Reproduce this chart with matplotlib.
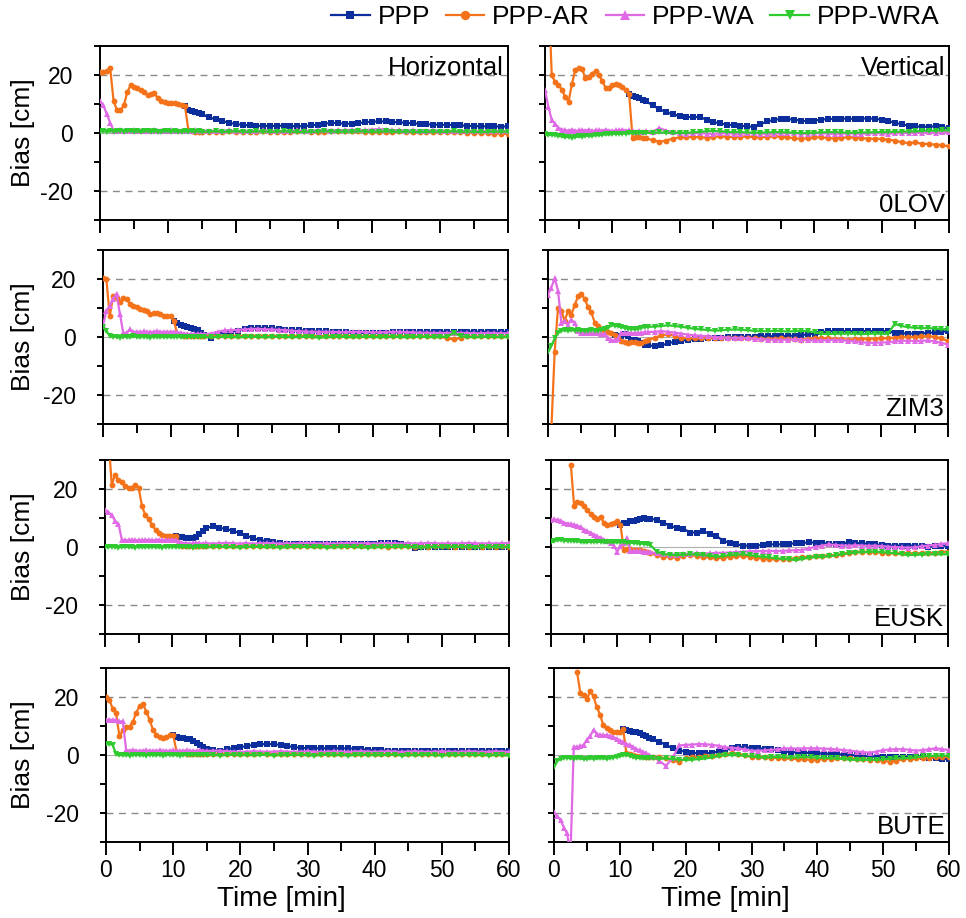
import numpy as np
import matplotlib
matplotlib.use("Agg")
import matplotlib.pyplot as plt
from matplotlib.ticker import MultipleLocator, FuncFormatter
from matplotlib.transforms import blended_transform_factory

plt.rcParams["font.family"] = ["Liberation Sans", "DejaVu Sans"]
plt.rcParams["axes.unicode_minus"] = False

nan = float("nan")

# epochs: 30 s for the first 15 min, then one per minute
T = np.concatenate([np.arange(0, 15.5, 0.5), np.arange(16, 61)])

STATIONS = ["0LOV", "ZIM3", "EUSK", "BUTE"]
LABELS = ["PPP", "PPP-AR", "PPP-WA", "PPP-WRA"]

# PPP float values are only listed from the last epoch shared with PPP-AR;
# before the first fix both solutions are identical and the AR curve shows it.

# ---- 0LOV -----------------------------------------------------------------
PPP_0LOV_H = [nan, nan, nan, nan, nan, nan, nan, nan, nan, nan,
              nan, nan, nan, nan, nan, nan, nan, nan, nan, nan,
              nan, nan, nan, nan, nan, 9.2, 8.1, 7.6, 7.2, 6.9, 6.5,
              5.4, 4.7, 4.1, 3.5, 3.1, 2.8, 2.6, 2.5, 2.5, 2.4,
              2.5, 2.5, 2.4, 2.3, 2.4, 2.6, 2.9, 3.2, 3.5, 3.4,
              3.2, 3.2, 3.4, 3.7, 3.9, 4.0, 4.0, 3.8, 3.7, 3.5,
              3.3, 3.2, 3.0, 2.9, 2.9, 2.8, 2.8, 2.6, 2.5, 2.4,
              2.3, 2.3, 2.3, 2.2, 2.3]
AR_0LOV_H = [21, 21, 21.5, 22.3, 11, 7.8, 7.8, 9.5, 14, 16.5,
             16, 15.5, 14.8, 14, 13.2, 13.5, 13.7, 12, 11.2, 10.8,
             10.5, 10.5, 10.2, 10, 9.8, 9.2, 1.0, 0.6, 0.5, 0.4, 0.5,
             0.5, 0.4, 0.5, 0.6, 0.5, 0.4, 0.5, 0.5, 0.6, 0.5,
             0.4, 0.4, 0.5, 0.6, 0.6, 0.5, 0.4, 0.5, 0.6, 0.7,
             0.8, 0.7, 0.6, 0.5, 0.5, 0.4, 0.4, 0.5, 0.6, 0.5,
             0.4, 0.3, 0.3, 0.4, 0.4, 0.3, 0.2, 0.2, 0.1, 0.0,
             0.0, -0.1, -0.2, -0.2, -0.3]
WA_0LOV_H = [11, 9.5, 6.5, 3.5, 0.8, 0.7, 0.9, 0.6, 0.8, 0.7,
             0.9, 0.6, 0.8, 0.7, 0.6, 0.8, 0.9, 0.7, 0.6, 0.8,
             0.7, 0.9, 0.6, 0.8, 0.7, 0.6, 0.8, 0.7, 0.9, 0.6, 0.8,
             0.7, 0.8, 0.6, 0.9, 0.7, 0.8, 0.6, 0.7, 0.9, 0.8,
             0.7, 0.6, 0.8, 0.9, 0.7, 0.8, 0.9, 1.0, 0.8, 0.9,
             1.0, 1.1, 0.9, 1.0, 1.2, 1.3, 1.2, 1.0, 0.9, 0.8,
             0.9, 0.7, 0.8, 0.9, 0.7, 0.8, 0.6, 0.7, 0.8, 0.6,
             0.7, 0.6, 0.7, 0.8, 0.6]
WRA_0LOV_H = [0.5, 0.6, 0.4, 0.7, 0.5, 0.6, 0.8, 0.5, 0.6, 0.7,
              0.5, 0.6, 0.4, 0.6, 0.7, 0.5, 0.6, 0.5, 0.4, 0.6,
              0.7, 0.5, 0.6, 0.5, 0.4, 0.6, 0.5, 0.7, 0.5, 0.6, 0.4,
              0.5, 0.6, 0.4, 0.5, 0.6, 0.5, 0.4, 0.6, 0.5, 0.4,
              0.5, 0.6, 0.5, 0.4, 0.3, 0.4, 0.5, 0.6, 0.5, 0.4,
              0.5, 0.4, 0.6, 0.5, 0.4, 0.5, 0.6, 0.5, 0.4, 0.5,
              0.4, 0.3, 0.4, 0.5, 0.4, 0.5, 0.6, 0.4, 0.5, 0.4,
              0.3, 0.4, 0.5, 0.4, 0.5]

PPP_0LOV_V = [nan, nan, nan, nan, nan, nan, nan, nan, nan, nan,
              nan, nan, nan, nan, nan, nan, nan, nan, nan, nan,
              nan, nan, nan, nan, nan, 13.5, 12.7, 12.3, 12, 11.5, 11,
              9.5, 8.2, 7.2, 6.4, 5.9, 5.5, 5.5, 5.5, 4.6, 3.8,
              3.3, 2.9, 2.7, 2.5, 2.3, 2.1, 3.0, 4.0, 4.5, 4.9,
              4.8, 4.6, 4.3, 4.0, 4.3, 4.6, 4.8, 4.9, 5.0, 4.9,
              4.9, 5.0, 5.0, 4.9, 4.6, 4.1, 3.5, 3.0, 2.5, 2.3,
              2.1, 2.2, 2.3, 2.0, 1.7]
AR_0LOV_V = [80, 50, 20, 17.5, 16.6, 15, 12.5, 10.8, 17, 21.7,
             22.5, 22, 19, 19.2, 20.5, 21.5, 20, 18, 15.5, 15.5,
             16.6, 16.8, 16.6, 16, 15, 13.5, -1.8, -1.5, -1.5, -1.7, -1.8,
             -2.5, -3, -2.6, -1.9, -1.5, -1.5, -1.3, -1.5, -1.6, -1.3,
             -1.2, -1.3, -1.4, -1.3, -1.2, -1.4, -1.5, -1.3, -1.2, -1.3,
             -1.5, -1.8, -2.0, -1.8, -1.5, -1.5, -1.7, -1.9, -1.7, -1.5,
             -1.6, -1.8, -1.9, -2.0, -2.0, -2.3, -2.6, -3.2, -3.5, -3.2,
             -3.7, -3.8, -4.0, -4.2, -4.6]
WA_0LOV_V = [14.8, 9, 4.5, 3.2, 1.8, 1.2, 1.0, 0.8, 1.2, 0.7,
             0.9, 1.1, 0.8, 1.2, 0.7, 0.9, 1.0, 0.8, 1.2, 0.8,
             0.7, 1.0, 0.9, 1.2, 0.8, 0.9, 0.6, 0.5, 0.7, 0.5, 0.6,
             0.5, 1.7, 0.8, 0.3, 0.0, -0.2, -0.1, 0.0, -0.2, -0.3,
             -0.1, 0.0, -0.2, -0.3, -0.1, 0.0, -0.2, -0.3, -0.2, -0.1,
             0.0, -0.1, -0.3, -0.2, -0.1, 0.0, -0.2, -0.3, -0.2, -0.1,
             -0.2, -0.3, -0.1, 0.0, -0.1, -0.2, -0.1, 0.0, 0.1, 0.0,
             0.1, 0.2, 0.1, 0.2, 0.3]
WRA_0LOV_V = [-0.5, -0.7, -0.6, -0.8, -1.0, -1.2, -1.5, -1.3, -1.6, -1.4,
              -1.2, -1.3, -1.0, -0.9, -1.0, -0.8, -0.7, -0.6, -0.5, -0.5,
              -0.4, -0.3, -0.3, -0.2, -0.2, -0.1, 0, -0.1, 0, 0.1, 0,
              0.1, 0.2, 0.1, 0, 0, 0.1, 0.2, 0.4, 0.6, 0.7,
              0.6, 0.4, 0.3, 0.3, 0.2, 0.1, 0.1, 0.2, 0.3, 0.3,
              0.2, 0.1, 0, 0, 0.1, 0.2, 0.3, 0.3, 0.2, 0.1,
              0.1, 0.2, 0.2, 0.3, 0.3, 0.4, 0.4, 0.5, 0.5, 0.6,
              0.7, 0.8, 0.8, 0.9, 0.9]

# ---- ZIM3 -----------------------------------------------------------------
PPP_ZIM3_H = [nan, nan, nan, nan, nan, nan, nan, nan, nan, nan,
              nan, nan, nan, nan, nan, nan, nan, nan, nan, nan,
              nan, 5.5, 4.8, 4.2, 3.8, 3.4, 3.0, 2.6, 2.3, 1.4, 0.6,
              -0.3, 1.2, 1.5, 1.8, 2.2, 2.8, 3.0, 3.2, 3.2, 3.0,
              2.8, 2.5, 2.4, 2.3, 2.2, 2.0, 2.0, 1.9, 1.8, 1.7,
              1.6, 1.5, 1.4, 1.4, 1.4, 1.4, 1.5, 1.6, 1.7, 1.7,
              1.8, 1.8, 1.8, 1.8, 1.8, 1.8, 1.8, 1.8, 1.8, 1.8,
              1.8, 1.8, 1.8, 1.8, 1.8]
AR_ZIM3_H = [20.2, 20, 7.2, 14, 13.5, 12, 13.6, 13, 11.5, 10.7,
             10.2, 9.8, 9.3, 8.8, 7.8, 8.2, 8.4, 7.8, 7.2, 7.3,
             7.2, 5.5, 1.2, 0.8, 0.5, 0.5, 0.4, 0.5, 0.4, 0.5, 0.4,
             0.4, 0.3, 0.4, 0.5, 0.4, 0.3, 0.4, 0.5, 0.4, 0.3,
             0.4, 0.5, 0.4, 0.3, 0.4, 0.5, 0.4, 0.3, 0.4, 0.5,
             0.4, 0.3, 0.2, 0.3, 0.4, 0.3, 0.2, 0.3, 0.4, 0.3,
             0.2, 0.3, 0.4, 0.3, 0.2, -0.5, -0.8, -0.3, 0.2, 0.3,
             0.2, 0.3, 0.2, 0.3, 0.2]
WA_ZIM3_H = [4, 9, 10.7, 13, 15, 8, 1.4, 1.5, 2.6, 1.8,
             1.8, 1.7, 1.9, 1.8, 1.7, 1.8, 1.9, 1.8, 1.7, 1.8,
             1.8, 1.7, 1.6, 1.4, 1.2, 1.1, 1.0, 1.0, 1.1, 1.0, 1.0,
             1.2, 1.8, 2.3, 2.4, 2.5, 2.6, 2.8, 2.8, 2.7, 2.6,
             2.5, 2.4, 2.2, 2.0, 1.9, 1.8, 1.8, 1.8, 1.8, 1.7,
             1.7, 1.8, 1.8, 1.7, 1.6, 1.6, 1.7, 1.8, 1.8, 1.7,
             1.6, 1.5, 1.5, 1.4, 1.4, 1.4, 1.5, 1.4, 1.4, 1.3,
             1.3, 1.4, 1.4, 1.3, 1.3]
WRA_ZIM3_H = [3.4, 2.2, 0.3, 0.1, 0.0, -0.2, 0.1, 0.0, -0.1, 0.2,
              0.0, -0.1, 0.1, 0.0, -0.2, 0.1, 0.0, -0.1, 0.1, 0.0,
              -0.1, 0.0, 0.1, -0.1, 0.0, 0.1, 0.0, -0.1, 0.0, 0.1, 0.0,
              -0.1, 0.0, 0.1, 0.0, -0.1, 0.0, 0.1, 0.0, -0.1, 0.0,
              0.1, 0.0, -0.1, 0.0, 0.1, 0.0, -0.2, -0.1, 0.0, 0.1,
              0.0, -0.1, 0.0, 0.1, 0.0, -0.1, 0.0, 0.1, 0.0, -0.1,
              0.0, 0.1, 0.0, -0.1, 0.0, 0.1, 1.5, 0.2, 0.0, -0.1,
              0.0, 0.1, 0.0, -0.1, 0.0]

PPP_ZIM3_V = [nan, nan, nan, nan, nan, nan, nan, nan, nan, nan,
              nan, nan, nan, nan, nan, nan, nan, nan, nan, nan,
              0.8, 0.3, 0.5, 0.9, 0.2, -0.9, -1.2, -1.4, -2.0, -2.6, -2.9,
              -3.1, -2.9, -2.2, -1.6, -1.3, -1.0, -0.8, -0.6, -0.4, -0.3,
              -0.2, -0.1, 0, 0, 0.1, 0.1, 0.2, 0.2, 0.3, 0.3,
              0.4, 0.5, 0.7, 0.9, 1.2, 1.6, 2.0, 2.0, 2.0, 2.0,
              2.0, 2.1, 2.0, 2.0, 2.0, 2.0, 1.4, 1.3, 1.2, 1.2,
              1.2, 1.4, 1.6, 1.8, 2.0]
AR_ZIM3_V = [-60, -32, -5, 10, 9, 5.5, 9, 7.7, 11, 14,
             15, 13, 10.5, 8.5, 5, 3.8, 2.8, 1.9, 1.6, 1.4,
             0.8, -0.2, -1.4, -1.8, -2, -1.8, -1.7, -1.9, -2, -1.5, -0.9,
             -0.3, 0.6, 0.9, 0.5, -0.2, -0.4, -0.5, -0.4, -0.3, -0.2,
             -0.2, -0.3, -0.3, -0.4, -0.5, -0.5, -0.6, -0.7, -0.6, -0.5,
             -0.6, -0.8, -0.9, -0.7, -0.5, -0.4, -0.5, -0.7, -0.8, -0.9,
             -0.8, -0.7, -0.6, -0.6, -0.5, -0.4, -0.2, 0.0, 0.1, 0.0,
             0.2, 0.3, 0.1, -0.5, -1.4]
WA_ZIM3_V = [14.6, 17, 20.3, 16, 5, 5.4, 4.3, 6, 4.9, 2.2,
             1.4, 1.4, 1.5, 1.4, 1.4, 1.3, 1.2, 0.9, -0.5, -1.1,
             -1.1, -0.6, 1.4, 1.4, 1.4, 1.4, 1.4, 1.4, 1.5, 1.6, 1.7,
             1.8, 2.0, 1.8, 1.5, 1.2, 0.8, 0.6, 0.4, 0.3, 0,
             -0.1, -0.2, -0.3, -0.3, -0.4, -0.6, -0.8, -0.9, -1.0, -1.0,
             -0.9, -0.8, -0.9, -1.1, -1.2, -1.2, -1.1, -1.0, -1.1, -1.3,
             -1.5, -1.8, -2.0, -2.0, -1.9, -1.8, -1.5, -1.3, -1.3, -1.4,
             -1.3, -1.2, -1.5, -2.0, -2.6]
WRA_ZIM3_V = [-5, -3, -0.5, 1.4, 2.2, 2.3, 2.2, 2.4, 2.2, 2.3,
              2.2, 2.1, 2.2, 2.3, 2.2, 2.2, 2.4, 2.6, 3.2, 4.0,
              3.9, 3.7, 3.4, 3.1, 2.9, 2.7, 2.6, 2.8, 3.2, 3.4, 3.5,
              3.6, 3.8, 4.0, 3.8, 3.5, 3.2, 2.8, 2.6, 2.4, 2.2,
              2.3, 2.5, 2.6, 2.5, 2.3, 2.1, 2.0, 2.0, 2.1, 2.0,
              1.9, 2.0, 2.1, 2.0, 1.6, 1.1, 1.0, 1.1, 1.1, 1.2,
              1.1, 1.0, 1.1, 1.2, 1.1, 1.1, 4.5, 3.8, 3.4, 3.2,
              3.0, 3.1, 2.9, 2.7, 2.6]

# ---- EUSK -----------------------------------------------------------------
PPP_EUSK_H = [nan, nan, nan, nan, nan, nan, nan, nan, nan, nan,
              nan, nan, nan, nan, nan, nan, nan, nan, nan, nan,
              nan, 3.8, 3.6, 3.4, 3.2, 3.2, 3.2, 3.6, 4.5, 5.6, 6.6,
              7.1, 6.6, 6.2, 5.6, 4.8, 3.9, 3.0, 2.4, 2.1, 1.8,
              1.3, 1.0, 0.9, 0.9, 0.9, 0.9, 0.9, 0.9, 0.9, 0.9,
              0.9, 1.0, 1.0, 1.1, 1.2, 1.3, 1.3, 1.3, 1.2, 0.6,
              -0.3, 0.0, 0.1, 0.1, 0.1, 0.1, 0.1, 0.1, 0.1, 0.1,
              0.1, 0.1, 0.1, 0.1, 0.1]
AR_EUSK_H = [45, 38, 21.5, 25, 23, 22.5, 20.9, 20.3, 20.5, 21.5,
             20.3, 14, 11, 9.5, 7.5, 6, 4.8, 4.1, 3.9, 3.9,
             3.9, 3.8, 1.5, 0.5, 0.3, 0.3, 0.4, 0.3, 0.2, 0.3, 0.3,
             0.3, 0.2, 0.3, 0.4, 0.3, 0.2, 0.3, 0.4, 0.3, 0.2,
             0.3, 0.2, 0.3, 0.4, 0.3, 0.2, 0.3, 0.2, 0.3, 0.4,
             0.3, 0.2, 0.3, 0.2, 0.3, 0.2, 0.1, 0.2, 0.3, 0.2,
             0.1, 0.2, 0.1, 0.2, 0.3, 0.2, 0.1, 0.2, 0.1, 0.2,
             0.1, 0.2, 0.1, 0.2, 0.1]
WA_EUSK_H = [12.8, 12, 11, 9, 8, 2.5, 2.3, 2.4, 2.5, 2.4,
             2.3, 2.4, 2.5, 2.4, 2.3, 2.4, 2.5, 2.4, 2.3, 2.4,
             2.5, 2.4, 1.8, 1.4, 1.3, 1.2, 1.3, 1.4, 1.3, 1.2, 1.3,
             1.2, 1.3, 1.4, 1.3, 1.2, 1.3, 1.2, 1.3, 1.4, 1.3,
             1.2, 1.3, 1.2, 1.3, 1.4, 1.3, 1.2, 1.3, 1.2, 1.3,
             1.4, 1.3, 1.2, 1.3, 1.2, 1.3, 1.4, 1.3, 1.2, 1.3,
             1.2, 1.3, 1.4, 1.3, 1.2, 1.3, 1.2, 1.3, 1.4, 1.3,
             1.2, 1.3, 1.2, 1.3, 1.4]
WRA_EUSK_H = [0.0, -0.1, 0.1, 0.0, -0.2, 0.0, 0.1, -0.1, 0.0, -0.2,
              0.1, 0.0, -0.1, 0.0, 0.1, -0.1, 0.0, -0.2, 0.0, 0.1,
              0.0, -0.1, 0.0, 0.1, -0.1, 0.0, -0.2, 0.0, 0.1, 0.0, -0.1,
              0.0, 0.1, -0.1, 0.0, -0.2, 0.0, 0.1, 0.0, -0.1, 0.0,
              -0.2, -0.1, 0.0, 0.1, 0.0, -0.1, 0.0, -0.2, -0.1, 0.0,
              0.1, 0.0, -0.1, -0.2, -0.1, 0.0, -0.1, 0.0, 0.1, 0.0,
              -0.1, -0.2, -0.1, 0.0, -0.1, 0.0, 0.1, 0.0, -0.1, -0.2,
              -0.1, 0.0, -0.1, 0.0, -0.1]

PPP_EUSK_V = [nan, nan, nan, nan, nan, nan, nan, nan, nan, nan,
              nan, nan, nan, nan, nan, nan, nan, nan, nan, nan,
              nan, 7.6, 8.2, 8.4, 8.8, 9.0, 9.4, 9.6, 9.9, 9.8, 9.7,
              9.4, 8.4, 7.3, 6.6, 6.3, 5.0, 5.0, 5.4, 4.6, 3.8,
              2.2, 1.4, 0.9, 0.5, 0.5, 0.5, 0.7, 0.9, 0.9, 0.9,
              1.1, 1.3, 1.4, 1.6, 1.5, 1.3, 1.2, 1.0, 1.2, 1.6,
              1.4, 1.3, 1.1, 0.9, 0.7, 0.5, 0.5, 0.5, 0.5, 0.5,
              0.3, 0.1, 0.2, 0.4, 0.5]
AR_EUSK_V = [nan, nan, nan, nan, nan, nan, 28.3, 14, 15.6, 15.2,
             14, 12.8, 11.3, 10.5, 9.8, 10.4, 8.2, 7.6, 8.0, 8.4,
             8.8, 7.6, -0.9, -0.7, -0.8, -0.9, -1.0, -1.2, -1.5, -1.8, -2.1,
             -2.8, -3.4, -3.5, -3.7, -3.2, -2.8, -3.0, -3.4, -3.6, -3.9,
             -3.7, -3.4, -3.2, -3.1, -3.3, -3.7, -4.0, -4.2, -4.2, -4.2,
             -4.0, -3.9, -3.6, -3.4, -3.2, -3.0, -2.9, -2.8, -2.4, -1.9,
             -1.7, -1.6, -1.7, -1.8, -2.0, -2.1, -2.2, -2.2, -2.2, -2.2,
             -2.2, -2.1, -1.9, -1.6, -1.6]
WA_EUSK_V = [9.4, 9.5, 9.4, 9.0, 8.3, 8.1, 7.9, 7.7, 7.4, 6.8,
             6.0, 5.5, 4.8, 4.3, 3.7, 3.2, 2.5, 2.0, 1.5, 0.5,
             -1.6, 0.2, 1.5, 3.2, -1.4, -1.4, -1.5, -1.5, -1.6, -1.7, -1.8,
             -2.2, -2.5, -2.6, -2.6, -2.4, -2.3, -2.2, -2.3, -2.2, -2.0,
             -2.0, -1.9, -1.8, -1.6, -1.5, -1.4, -1.4, -1.3, -1.4, -1.3,
             -1.2, -1.1, -1.0, -0.5, 0.1, 0.5, 0.9, 0.7, 0.5, 0.5,
             0.6, 0.5, 0.4, 0.5, 0.3, 0.1, 0.0, -0.1, -0.2, -0.1,
             0.3, 0.5, 0.7, 1.1, 1.3]
WRA_EUSK_V = [1.6, 2.0, 2.4, 2.4, 2.2, 2.1, 2.1, 2.0, 1.9, 1.8,
              1.6, 1.7, 1.8, 1.8, 1.8, 1.7, 1.6, 1.6, 1.6, 1.6,
              1.6, 1.6, 1.6, 1.5, 1.5, 1.4, 1.3, 1.2, 1.1, 0.9, 0.7,
              -1.6, -2.5, -2.7, -2.8, -2.7, -2.5, -2.6, -2.8, -3.0, -3.4,
              -3.1, -2.8, -2.6, -2.5, -2.8, -3.1, -3.4, -3.6, -3.9, -4.1,
              -4.3, -4.5, -4.1, -3.7, -3.5, -3.4, -3.2, -2.9, -2.5, -2.2,
              -1.9, -1.8, -1.7, -1.6, -1.8, -2.0, -2.2, -2.5, -2.8, -2.7,
              -2.6, -2.5, -2.5, -2.5, -2.5]

# ---- BUTE -----------------------------------------------------------------
PPP_BUTE_H = [nan, nan, nan, nan, nan, nan, nan, nan, nan, nan,
              nan, nan, nan, nan, nan, nan, nan, nan, nan, nan,
              6.9, 6.1, 6.0, 5.8, 5.6, 5.4, 5.0, 4.3, 3.3, 2.7, 2.1,
              1.6, 1.5, 2.0, 2.4, 2.7, 3.1, 3.5, 3.7, 3.8, 3.7,
              3.5, 3.1, 2.7, 2.5, 2.3, 2.3, 2.3, 2.3, 2.3, 2.3,
              2.3, 2.2, 2.0, 1.8, 1.7, 1.6, 1.5, 1.5, 1.5, 1.5,
              1.5, 1.5, 1.5, 1.5, 1.4, 1.4, 1.4, 1.4, 1.4, 1.5,
              1.5, 1.5, 1.5, 1.5, 1.5]
AR_BUTE_H = [20, 19, 16, 14.5, 6.5, 8.5, 9.8, 9.8, 11.5, 14.5,
             17, 17.5, 15, 12, 8.7, 7, 6.2, 5.8, 6.3, 6.9,
             6.9, 1.2, 0.8, 0.6, 0.5, 0.5, 0.5, 0.4, 0.5, 0.5, 0.4,
             0.5, 0.4, 0.5, 0.4, 0.5, 0.4, 0.5, 0.6, 0.5, 0.4,
             0.5, 0.4, 0.5, 0.4, 0.3, 0.4, 0.5, 0.4, 0.3, 0.4,
             0.3, 0.4, 0.3, 0.4, 0.3, 0.4, 0.3, 0.2, 0.3, 0.4,
             0.3, 0.2, 0.3, 0.2, 0.3, 0.2, 0.3, 0.2, 0.3, 0.2,
             0.3, 0.4, 0.3, 0.2, 0.3]
WA_BUTE_H = [12.1, 12.2, 12.1, 12.0, 11.6, 11.6, 1.7, 1.5, 1.6, 1.5,
             1.4, 1.5, 1.6, 1.5, 1.4, 1.5, 1.6, 1.5, 1.4, 1.5,
             1.6, 1.5, 1.4, 1.5, 1.6, 1.5, 1.4, 1.5, 1.6, 1.5, 1.4,
             1.5, 1.5, 1.3, 1.2, 1.1, 1.2, 1.3, 1.2, 1.1, 1.2,
             1.3, 1.2, 1.1, 1.2, 1.3, 1.2, 1.1, 1.2, 1.3, 1.2,
             1.1, 1.2, 1.3, 1.2, 1.1, 1.2, 1.3, 1.2, 1.1, 1.2,
             1.3, 1.2, 1.1, 1.2, 1.3, 1.2, 1.1, 1.2, 1.3, 1.2,
             1.1, 1.2, 1.3, 1.2, 1.1]
WRA_BUTE_H = [3.8, 3.8, 3.5, 0.2, 0.0, -0.1, 0.0, -0.2, 0.0, 0.1,
              -0.1, 0.0, -0.2, 0.1, 0.0, -0.1, 0.1, -0.2, 0.0, 0.1,
              -0.1, 0.0, -0.2, 0.0, 0.1, -0.1, 0.0, -0.1, 0.0, 0.1, -0.1,
              0.0, -0.2, 0.0, 0.1, -0.1, 0.0, -0.1, 0.0, 0.1, -0.2,
              0.0, -0.1, 0.1, 0.0, -0.1, -0.2, 0.0, 0.1, -0.1, 0.0,
              -0.2, 0.0, 0.1, -0.1, 0.0, -0.1, 0.0, 0.1, -0.2, 0.0,
              -0.1, 0.0, 0.1, -0.1, -0.2, 0.0, -0.1, 0.0, 0.1, -0.1,
              0.0, -0.2, 0.0, -0.1, -0.2]

PPP_BUTE_V = [nan, nan, nan, nan, nan, nan, nan, nan, nan, nan,
              nan, nan, nan, nan, nan, nan, nan, nan, nan, nan,
              nan, 8.9, 8.7, 8.4, 8.1, 7.9, 7.7, 7.0, 6.4, 5.8, 5.4,
              4.6, 3.5, 2.3, 1.5, 1.2, 0.8, 0.6, 0.6, 0.8, 1.2,
              1.8, 2.3, 2.7, 2.7, 2.5, 2.3, 2.2, 2.0, 1.6, 1.2,
              1.0, 0.9, 0.8, 0.7, 0.6, 0.5, 0.4, 0.3, 0.1, 0.0,
              -0.1, -0.3, -0.5, -0.6, -0.6, -0.6, -0.6, -0.6, -0.6, -0.6,
              -0.7, -0.9, -1.1, -1.3, -1.5]
AR_BUTE_V = [nan, nan, nan, nan, nan, nan, nan, 28.6, 21.4, 20.8,
             19.3, 22, 20.2, 16.5, 13.9, 10.2, 9.2, 8.5, 8.1, 8.1,
             8.1, 8.9, 0.6, 0.2, 0, -0.2, -0.3, -0.5, -0.6, -0.7, -0.7,
             -0.8, -1.2, -1.7, -2.3, -1.2, -0.8, -0.6, -0.4, -0.2, 0.0,
             0.3, 0.6, 0.3, 0.0, -0.6, -0.7, -0.8, -0.9, -1.0, -1.2,
             -1.2, -1.4, -1.5, -1.7, -1.6, -1.4, -1.3, -1.2, -1.2, -1.2,
             -1.3, -1.5, -1.7, -1.7, -2.0, -2.3, -1.9, -1.5, -1.3, -1.2,
             -1.0, -0.9, -0.8, -0.7, -0.6]
WA_BUTE_V = [-19.7, -21, -22.5, -25, -27, -35, 2.9, 2.7, 3.0, 3.5,
             5.2, 6.5, 8.7, 7.2, 6.9, 6.9, 6.8, 6.6, 6.2, 5.6,
             5.0, 4.4, 3.9, 3.4, 2.8, 2.1, 1.6, 1.1, 0.6, 0.0, -0.6,
             -2.0, -3.8, -1.0, 3.3, 3.5, 3.6, 3.8, 3.7, 3.5, 3.2,
             2.7, 2.5, 2.3, 2.0, 1.5, 1.5, 1.6, 1.8, 2.0, 2.3,
             2.3, 2.2, 2.3, 2.3, 2.3, 2.2, 2.1, 1.9, 1.7, 1.5,
             1.2, 1.0, 0.8, 1.2, 1.7, 1.9, 2.0, 2.0, 1.8, 1.5,
             1.7, 2.0, 2.3, 2.0, 1.7]
WRA_BUTE_V = [-4, -2, -1.5, -1.0, -0.9, -1.2, -1.3, -1.1, -1.2, -1.4,
              -1.3, -1.2, -1.3, -1.2, -1.1, -1.2, -1.3, -1.1, -0.9, -0.7,
              -0.4, -0.1, 0.0, -0.3, -0.6, -0.9, -1.1, -1.2, -1.2, -1.1, -1.2,
              -1.3, -1.2, -1.4, -1.6, -1.7, -1.6, -1.4, -1.2, -0.8, -0.4,
              -0.1, 0.0, -0.1, -0.3, -0.5, -0.8, -0.9, -0.8, -0.7, -0.8,
              -0.9, -0.8, -0.7, -0.8, -0.9, -1.0, -1.1, -1.2, -1.4, -1.6,
              -1.7, -1.7, -1.6, -1.7, -1.5, -1.3, -1.1, -1.2, -1.0, -0.8,
              -0.5, -0.3, -0.3, -0.2, -0.3]

# (horizontal, vertical) series per station, in legend order
PANELS = [
    ([PPP_0LOV_H, AR_0LOV_H, WA_0LOV_H, WRA_0LOV_H],
     [PPP_0LOV_V, AR_0LOV_V, WA_0LOV_V, WRA_0LOV_V]),
    ([PPP_ZIM3_H, AR_ZIM3_H, WA_ZIM3_H, WRA_ZIM3_H],
     [PPP_ZIM3_V, AR_ZIM3_V, WA_ZIM3_V, WRA_ZIM3_V]),
    ([PPP_EUSK_H, AR_EUSK_H, WA_EUSK_H, WRA_EUSK_H],
     [PPP_EUSK_V, AR_EUSK_V, WA_EUSK_V, WRA_EUSK_V]),
    ([PPP_BUTE_H, AR_BUTE_H, WA_BUTE_H, WRA_BUTE_H],
     [PPP_BUTE_V, AR_BUTE_V, WA_BUTE_V, WRA_BUTE_V]),
]

COLORS = ["#0b2e9c", "#f4731a", "#e06ae6", "#2fca2f"]
MARKERS = ["s", "o", "^", "v"]
MSIZES = [4.0, 4.2, 4.6, 4.6]

FS_TICK = 16.5
FS_LABEL = 19
FS_XLABEL = 20
FS_TEXT = 18.5
FS_LEG = 19

W, H = 966, 918
fig = plt.figure(figsize=(W / 100, H / 100), dpi=100)

# panel boxes in pixels: (left, right) per column and row, (top, bottom) per row
LEFT_X = [(100, 508), (103, 508), (105, 509), (106, 509)]
RIGHT_X = [(545, 949), (548, 948), (551, 948), (554, 949)]
ROW_Y = [(46, 220), (250, 424), (460, 634), (668, 842)]


def make_ax(x0, x1, y0, y1):
    return fig.add_axes([x0 / W, 1 - y1 / H, (x1 - x0) / W, (y1 - y0) / H])


def y_fmt(v, _):
    return f"{v:.0f}" if v % 20 == 0 and abs(v) < 30 else ""


def style_ax(ax, bottom_row, left_col):
    ax.set_xlim(0, 60)
    ax.set_ylim(-30, 30)
    ax.xaxis.set_major_locator(MultipleLocator(10))
    ax.xaxis.set_minor_locator(MultipleLocator(5))
    ax.yaxis.set_major_locator(MultipleLocator(10))
    ax.yaxis.set_major_formatter(FuncFormatter(y_fmt))
    ax.tick_params(which="both", direction="out", width=1.4,
                   labelsize=FS_TICK, top=False, right=False)
    ax.tick_params(axis="x", which="major", length=9.5, pad=3)
    ax.tick_params(axis="x", which="minor", length=6.5)
    ax.tick_params(axis="y", which="major", length=4.5, pad=15)
    for sp in ax.spines.values():
        sp.set_linewidth(1.4)
    if not bottom_row:
        ax.tick_params(axis="x", labelbottom=False)
    else:
        ax.set_xlabel("Time [min]", fontsize=FS_XLABEL)
        ax.xaxis.set_label_coords(
            0.435, 1 - 886 / H,
            transform=blended_transform_factory(ax.transAxes, fig.transFigure))
    if not left_col:
        ax.tick_params(axis="y", labelleft=False)
    else:
        ax.set_ylabel("Bias [cm]", fontsize=FS_LABEL)
        ax.yaxis.set_label_coords(
            35 / W, 0.5,
            transform=blended_transform_factory(fig.transFigure, ax.transAxes))
    for yv in (-20, 20):
        ax.axhline(yv, color="#8a8a8a", lw=1.0, ls=(0, (5, 4)), zorder=1)
    ax.axhline(0, color="#b0b0b0", lw=0.8, zorder=1)


def draw(ax, series):
    for k, vals in enumerate(series):
        ax.plot(T, vals, color=COLORS[k], marker=MARKERS[k], ms=MSIZES[k],
                mew=0, lw=1.6, zorder=3 + k, label=LABELS[k])


for r, (hor, ver) in enumerate(PANELS):
    axl = make_ax(*LEFT_X[r], *ROW_Y[r])
    axr = make_ax(*RIGHT_X[r], *ROW_Y[r])
    draw(axl, hor)
    draw(axr, ver)
    style_ax(axl, r == 3, True)
    style_ax(axr, r == 3, False)
    axr.text(0.99, 0.015, STATIONS[r], transform=axr.transAxes,
             ha="right", va="bottom", fontsize=FS_TEXT)
    if r == 0:
        axl.text(0.99, 0.94, "Horizontal", transform=axl.transAxes,
                 ha="right", va="top", fontsize=FS_TEXT)
        axr.text(0.99, 0.94, "Vertical", transform=axr.transAxes,
                 ha="right", va="top", fontsize=FS_TEXT)
        handles, labels = axl.get_legend_handles_labels()

leg = fig.legend(handles, labels, loc="upper right", bbox_to_anchor=(0.997, 1.02),
                 ncol=4, frameon=False, fontsize=FS_LEG, handlelength=1.45,
                 handletextpad=0.3, columnspacing=0.6, markerscale=1.6)

fig.savefig("out.png", dpi=100)
